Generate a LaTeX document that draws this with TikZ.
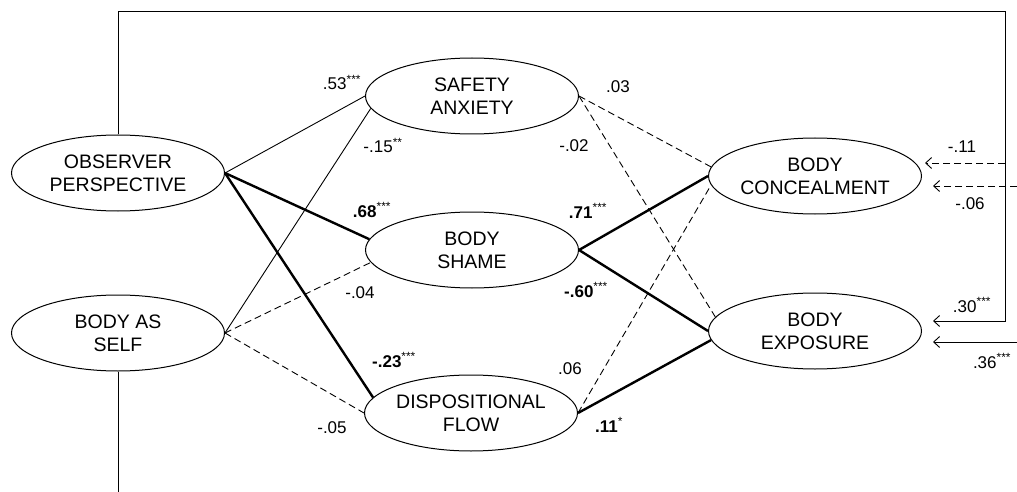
\documentclass[tikz,border=0pt]{standalone}
\usepackage{fontspec}
\setmainfont{Liberation Sans}
\usetikzlibrary{shapes.geometric,arrows.meta}
\begin{document}
\begin{tikzpicture}[x=1pt,y=-1pt,
  latent/.style={ellipse,draw,line width=1pt,minimum width=213pt,minimum height=76pt,
    inner sep=0pt,align=center,font=\fontsize{19.5}{23}\selectfont},
  thinpath/.style={line width=0.9pt},
  thickpath/.style={line width=2.4pt},
  dashpath/.style={line width=0.9pt,dash pattern=on 7pt off 4pt},
  coef/.style={anchor=base,inner sep=0pt,font=\fontsize{17}{20}\selectfont},
  tip/.style={-{Straight Barb[length=6pt,width=11pt]}}
]
\useasboundingbox (0,0) rectangle (1017,492);

% latent variables
\node[latent] (op)  at (118,173) {OBSERVER\\PERSPECTIVE};
\node[latent] (bas) at (118,333) {BODY AS\\SELF};
\node[latent] (sa)  at (472,96)  {SAFETY\\ANXIETY};
\node[latent] (bs)  at (472,250) {BODY\\SHAME};
\node[latent] (df)  at (471,413) {DISPOSITIONAL\\FLOW};
\node[latent] (bc)  at (815,176) {BODY\\CONCEALMENT};
\node[latent] (be)  at (815,331) {BODY\\EXPOSURE};

% predictors to mediators
\draw[thinpath]  (op.east) -- (sa.west);
\draw[thickpath] (op.east) -- (bs.174);
\draw[thickpath] (op.east) -- (df.171);
\draw[thinpath]  (bas.east) -- (sa.187);
\draw[dashpath]  (bas.east) -- (bs.187);
\draw[dashpath]  (bas.east) -- (df.west);

% mediators to outcomes
\draw[dashpath]  (sa.east) -- (bc.175);
\draw[dashpath]  (sa.east) -- (be.172);
\draw[thickpath] (bs.east) -- (bc.west);
\draw[thickpath] (bs.east) -- (be.west);
\draw[dashpath]  (df.east) -- (bc.185);
\draw[thickpath] (df.east) -- (be.185);

% direct paths routed around the model
\coordinate (tl) at (118,11);
\coordinate (tr) at (1005,11);
\coordinate (rb) at (1005,321);
\coordinate (rc) at (1005,163);
\coordinate (beA) at (933,321);
\coordinate (bcA) at (925,163);
\coordinate (bcB) at (933,186);
\coordinate (beB) at (933,342);
\coordinate (inB) at (1017,186);
\coordinate (inE) at (1017,342);
\coordinate (down) at (118,492);

\draw[thinpath,tip] (op.north) -- (tl) -- (tr) -- (rb) -- (beA);
\draw[dashpath,tip] (rc) -- (bcA);
\draw[dashpath,tip] (inB) -- (bcB);
\draw[thinpath,tip] (inE) -- (beB);
\draw[thinpath] (bas.south) -- (down);

% path coefficients
\node[coef] (c1)  at (342,90)  {.53\textsuperscript{***}};
\node[coef] (c2)  at (383,153) {-.15\textsuperscript{**}};
\node[coef] (c3)  at (618,93)  {.03};
\node[coef] (c4)  at (574,151) {-.02};
\node[coef] (c5)  at (372,217) {\textbf{.68}\textsuperscript{***}};
\node[coef] (c6)  at (588,218) {\textbf{.71}\textsuperscript{***}};
\node[coef] (c7)  at (360,298) {-.04};
\node[coef] (c8)  at (586,297) {\textbf{-.60}\textsuperscript{***}};
\node[coef] (c9)  at (394,367) {\textbf{-.23}\textsuperscript{***}};
\node[coef] (c10) at (570,374) {.06};
\node[coef] (c11) at (332,433) {-.05};
\node[coef] (c12) at (609,432) {\textbf{.11}\textsuperscript{*}};
\node[coef] (c13) at (962,153) {-.11};
\node[coef] (c14) at (970,209) {-.06};
\node[coef] (c15) at (972,312) {.30\textsuperscript{***}};
\node[coef] (c16) at (992,368) {.36\textsuperscript{***}};
\end{tikzpicture}
\end{document}
